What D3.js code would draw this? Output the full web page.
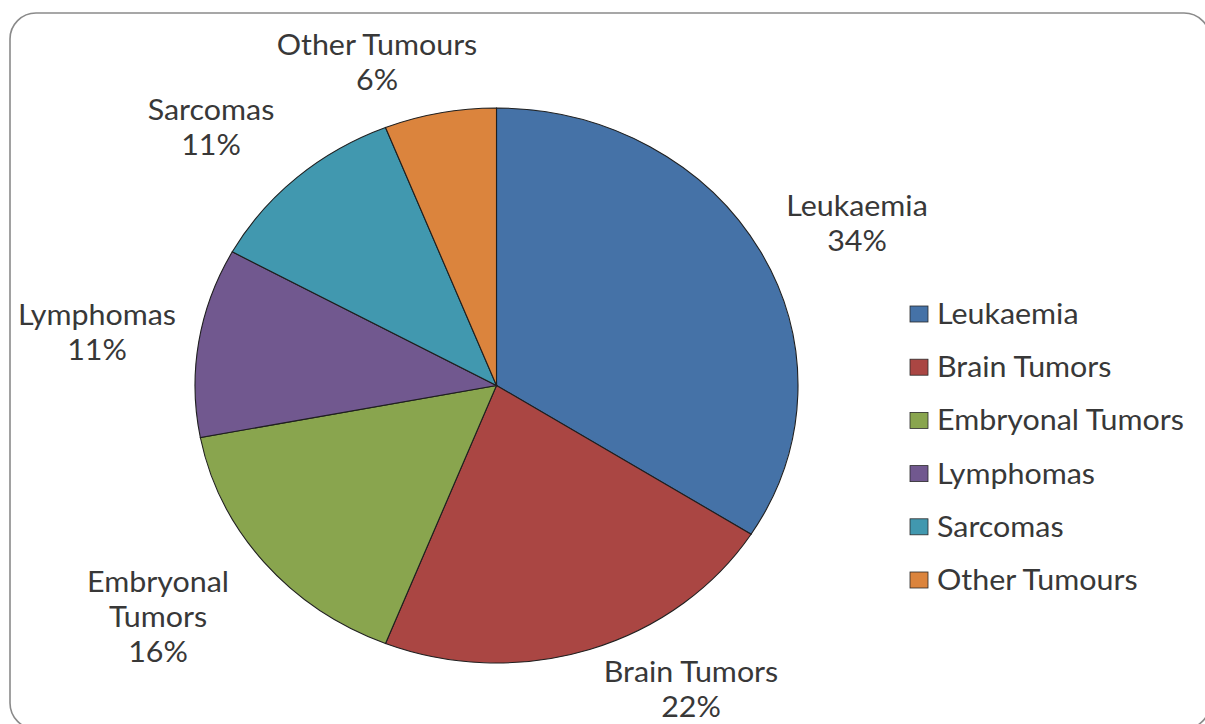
<!DOCTYPE html>
<html>
<head>
<meta charset="utf-8">
<script src="https://cdn.jsdelivr.net/npm/d3@7"></script>
<style>
  html, body { margin: 0; padding: 0; background: #fff; }
  svg { display: block; }
  text { font-family: Lato, "Open Sans", sans-serif; fill: #383838; }
</style>
</head>
<body>
<svg id="chart" width="1205" height="724"></svg>
<script>
// Share of childhood cancer cases by type (percent)
const categories = ["Leukaemia", "Brain Tumors", "Embryonal Tumors", "Lymphomas", "Sarcomas", "Other Tumours"];
const shares = [34, 22, 16, 11, 11, 6];
const sliceColors = ["#4572A7", "#AA4643", "#89A54E", "#71588F", "#4198AF", "#DB843D"];
// Data-label text lines for each slice (name may wrap onto two lines)
const labelLines = [
  ["Leukaemia"], ["Brain Tumors"], ["Embryonal", "Tumors"],
  ["Lymphomas"], ["Sarcomas"], ["Other Tumours"]
];

const svg = d3.select("#chart");

// Chart frame with rounded corners
svg.append("rect")
  .attr("x", 10).attr("y", 13)
  .attr("width", 1200).attr("height", 716)
  .attr("rx", 26).attr("ry", 26)
  .attr("fill", "#fff")
  .attr("stroke", "#8a8a8a")
  .attr("stroke-width", 1.6);

// Pie geometry: plot area is slightly wider than tall, so the pie is an ellipse
const cx = 496.5, cy = 385.5, rx = 301.5, ry = 277.5;
const stretch = rx / ry;

const pie = d3.pie().sort(null).value(d => d)(shares);
const arc = d3.arc().innerRadius(0).outerRadius(ry);

const pieG = svg.append("g")
  .attr("transform", `translate(${cx},${cy}) scale(${stretch},1)`);

pieG.selectAll("path")
  .data(pie)
  .join("path")
  .attr("d", arc)
  .attr("fill", (d, i) => sliceColors[i])
  .attr("stroke", "#1f1f1f")
  .attr("stroke-width", 1.1)
  .attr("vector-effect", "non-scaling-stroke");

// Text shares the same horizontal stretch as the pie
const fontSize = 28, lineGap = 35;

// Data labels placed outside the pie (centre x, first baseline y)
const labelAnchor = [
  [857, 216], [691, 682], [158, 592], [97, 325], [211, 120], [377, 55]
];
pie.forEach((d, i) => {
  const lines = labelLines[i].concat([d3.format(".0f")(d.data) + "%"]);
  const t = svg.append("g")
    .attr("transform", `translate(${labelAnchor[i][0]},${labelAnchor[i][1]}) scale(${stretch},1)`)
    .append("text")
    .attr("text-anchor", "middle")
    .attr("font-size", fontSize);
  lines.forEach((s, j) => {
    t.append("tspan")
      .attr("x", 0)
      .attr("y", j * lineGap)
      .text(s);
  });
});

// Legend
const legendX = 910, legendY0 = 314, legendStep = 53.2;
const lg = svg.append("g");
categories.forEach((c, i) => {
  const y = legendY0 + i * legendStep;
  lg.append("rect")
    .attr("x", legendX).attr("y", y - 8)
    .attr("width", 18).attr("height", 16)
    .attr("fill", sliceColors[i])
    .attr("stroke", "#2a2a2a")
    .attr("stroke-width", 0.8);
  lg.append("g")
    .attr("transform", `translate(${legendX + 27},${y + 10}) scale(${stretch},1)`)
    .append("text")
    .attr("font-size", fontSize)
    .text(c);
});
</script>
</body>
</html>
